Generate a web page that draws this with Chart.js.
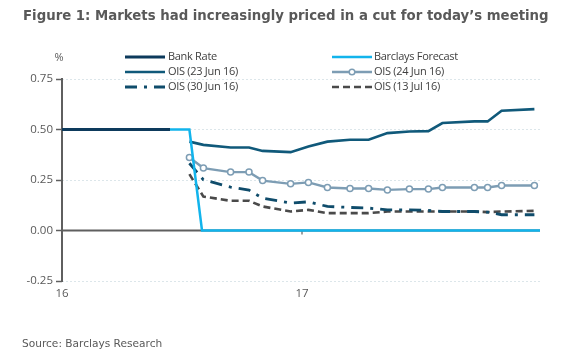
<!DOCTYPE html>
<html>
<head>
<meta charset="utf-8">
<script src="https://cdn.jsdelivr.net/npm/chart.js@4.4.1/dist/chart.umd.min.js"></script>
<style>
html,body{margin:0;padding:0;background:#fff;}
#wrap{position:relative;width:574px;height:350px;}
canvas{display:block;}
</style>
</head>
<body>
<div id="wrap"><canvas id="c" width="574" height="350"></canvas></div>
<script>
// ---- data (x = months since Jan 2016) ----
const titleText = "Figure 1: Markets had increasingly priced in a cut for today\u2019s meeting";
const sourceText = "Source: Barclays Research";
const xTickValues = [0, 12];
const xTickLabels = ["16", "17"];
const yTickValues = [-0.25, 0, 0.25, 0.5, 0.75];

const bankRateMonths = [0, 5.4];
const bankRateValues = [0.5, 0.5];

const forecastMonths = [5.4, 6.37, 7.0, 23.9];
const forecastValues = [0.5, 0.5, 0, 0];

const oisMonths = [6.37, 7.07, 8.43, 9.35, 10.03, 11.43, 12.32, 13.27, 14.4, 15.33, 16.27, 17.37, 18.32, 19.02, 20.62, 21.28, 21.98, 23.62];
const ois23Jun = [0.44, 0.424, 0.411, 0.411, 0.394, 0.388, 0.416, 0.44, 0.449, 0.449, 0.482, 0.49, 0.492, 0.532, 0.54, 0.54, 0.593, 0.601];
const ois24Jun = [0.361, 0.309, 0.289, 0.289, 0.247, 0.231, 0.238, 0.213, 0.208, 0.208, 0.201, 0.205, 0.205, 0.213, 0.213, 0.213, 0.223, 0.223];
const ois30Jun = [0.333, 0.251, 0.215, 0.2, 0.16, 0.136, 0.142, 0.119, 0.114, 0.111, 0.102, 0.102, 0.1, 0.094, 0.094, 0.091, 0.078, 0.078];
const ois13Jul = [0.279, 0.168, 0.147, 0.147, 0.119, 0.094, 0.102, 0.086, 0.086, 0.086, 0.094, 0.094, 0.094, 0.094, 0.094, 0.091, 0.094, 0.097];

const seriesNames = ["Bank Rate", "Barclays Forecast", "OIS (23 Jun 16)", "OIS (24 Jun 16)", "OIS (30 Jun 16)", "OIS (13 Jul 16)"];

function pts(xs, ys) { return xs.map((x, i) => ({x: x, y: ys[i]})); }

const GREY = '#595959';
const AXIS = '#5f5f5f';

const decorPlugin = {
  id: 'decor',
  beforeDatasetsDraw(chart) {
    const ctx = chart.ctx;
    const xs = chart.scales.x, ys = chart.scales.y;
    const a = chart.chartArea;
    ctx.save();
    // zero line
    ctx.strokeStyle = AXIS; ctx.lineWidth = 2;
    const zy = ys.getPixelForValue(0);
    ctx.beginPath(); ctx.moveTo(a.left, zy); ctx.lineTo(a.right, zy); ctx.stroke();
    // y axis line
    ctx.beginPath(); ctx.moveTo(a.left, ys.getPixelForValue(yTickValues[yTickValues.length - 1]) - 1);
    ctx.lineTo(a.left, ys.getPixelForValue(yTickValues[0]) + 1); ctx.stroke();
    // small tick at "17" on the zero line
    ctx.lineWidth = 1.2;
    const tx = xs.getPixelForValue(xTickValues[1]);
    ctx.beginPath(); ctx.moveTo(tx, zy); ctx.lineTo(tx, zy + 4); ctx.stroke();
    ctx.restore();
  },
  afterDraw(chart) {
    const ctx = chart.ctx;
    ctx.save();
    // title
    ctx.fillStyle = GREY;
    ctx.textBaseline = 'middle';
    ctx.textAlign = 'left';
    ctx.font = 'bold 13.3px "DejaVu Sans", Verdana, sans-serif';
    ctx.fillText(titleText, 23, 17);
    // source
    ctx.font = '10.6px "DejaVu Sans", Verdana, sans-serif';
    ctx.fillText(sourceText, 22, 344);
    // % label
    ctx.font = '11px "Open Sans", sans-serif';
    ctx.textAlign = 'center';
    ctx.fillText('%', 59, 58);
    // legend
    const cols = [{lx: 125, tx: 168}, {lx: 332, tx: 374}];
    const rows = [57, 72, 87];
    ctx.font = '11px "Open Sans", sans-serif';
    ctx.textAlign = 'left';
    chart.data.datasets.forEach((ds, i) => {
      const c = cols[i % 2], r = rows[Math.floor(i / 2)];
      ctx.strokeStyle = ds.borderColor;
      ctx.lineWidth = ds.borderWidth;
      ctx.setLineDash(ds.borderDash || []);
      ctx.beginPath(); ctx.moveTo(c.lx, r); ctx.lineTo(c.lx + 40, r); ctx.stroke();
      ctx.setLineDash([]);
      if (ds.pointRadius > 0) {
        ctx.fillStyle = '#fff'; ctx.strokeStyle = ds.borderColor; ctx.lineWidth = 1.5;
        ctx.beginPath(); ctx.arc(c.lx + 20, r, 2.8, 0, Math.PI * 2); ctx.fill(); ctx.stroke();
      }
      ctx.fillStyle = '#404040';
      ctx.letterSpacing = '-0.3px';
      ctx.fillText(ds.label, c.tx, r);
    });
    ctx.restore();
  }
};

new Chart(document.getElementById('c'), {
  type: 'line',
  data: {
    datasets: [
      {label: seriesNames[0], data: pts(bankRateMonths, bankRateValues), borderColor: '#0d3a5c', borderWidth: 3, pointRadius: 0},
      {label: seriesNames[1], data: pts(forecastMonths, forecastValues), borderColor: '#12b4ec', borderWidth: 2.5, pointRadius: 0},
      {label: seriesNames[2], data: pts(oisMonths, ois23Jun), borderColor: '#10597a', borderWidth: 2.6, pointRadius: 0},
      {label: seriesNames[3], data: pts(oisMonths, ois24Jun), borderColor: '#7d9db4', borderWidth: 2.4, pointRadius: 3,
        pointBackgroundColor: '#ffffff', pointBorderColor: '#7d9db4', pointBorderWidth: 1.5},
      {label: seriesNames[4], data: pts(oisMonths, ois30Jun), borderColor: '#0f4c6b', borderWidth: 2.8, pointRadius: 0, borderDash: [12, 7, 3, 7]},
      {label: seriesNames[5], data: pts(oisMonths, ois13Jul), borderColor: '#4a4a4a', borderWidth: 2.6, pointRadius: 0, borderDash: [7, 4]}
    ]
  },
  options: {
    responsive: false,
    animation: false,
    devicePixelRatio: 1,
    layout: {padding: {left: 0, top: 79, right: 34, bottom: 0}},
    plugins: {legend: {display: false}, tooltip: {enabled: false}, title: {display: false}},
    elements: {line: {tension: 0, borderCapStyle: 'butt'}},
    scales: {
      x: {
        type: 'linear', min: 0, max: 23.9,
        afterFit(s) { s.height = 69; },
        afterBuildTicks(s) { s.ticks = xTickValues.map(v => ({value: v})); },
        ticks: {
          callback(v) { const i = xTickValues.indexOf(v); return i >= 0 ? xTickLabels[i] : ''; },
          color: GREY, font: {family: '"Open Sans", sans-serif', size: 11.5}, padding: 6, maxRotation: 0, autoSkip: false
        },
        grid: {display: false, drawTicks: false},
        border: {display: false}
      },
      y: {
        min: -0.25, max: 0.75,
        afterFit(s) { s.width = 62; },
        afterBuildTicks(s) { s.ticks = yTickValues.map(v => ({value: v})); },
        ticks: {
          callback(v) { return v.toFixed(2); },
          color: GREY, font: {family: '"Open Sans", sans-serif', size: 11.5}, padding: 3
        },
        grid: {
          color(ctx) { return ctx.tick && ctx.tick.value === 0 ? 'rgba(0,0,0,0)' : '#dce6ea'; },
          lineWidth: 1,
          tickColor: AXIS, tickLength: 6, tickWidth: 1.5
        },
        border: {display: false, dash: [2, 2]}
      }
    }
  },
  plugins: [decorPlugin]
});
</script>
</body>
</html>
